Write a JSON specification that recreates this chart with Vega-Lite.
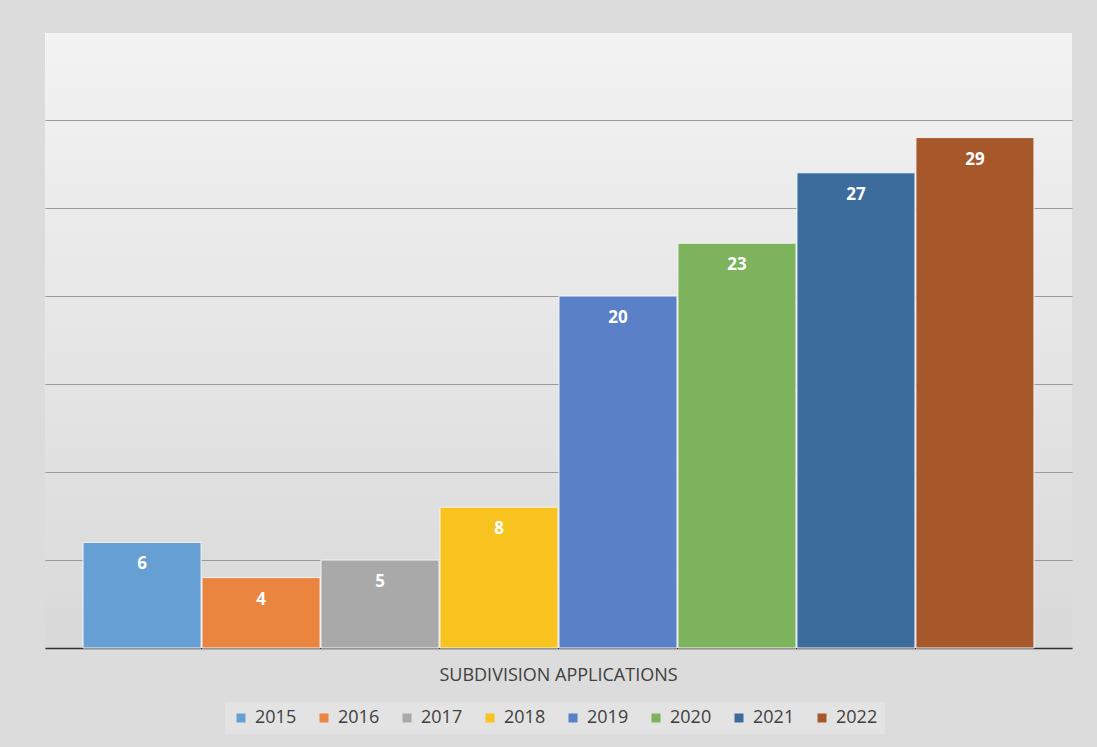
{
  "$schema": "https://vega.github.io/schema/vega-lite/v6.json",
  "autosize": {"type": "none"},
  "width": 1027,
  "height": 616,
  "padding": {"left": 45, "top": 32, "right": 25, "bottom": 99},
  "background": "#dcdcdc",
  "config": {
    "view": {"stroke": null, "fill": {"gradient": "linear", "x1": 0, "y1": 0, "x2": 0, "y2": 1, "stops": [{"offset": 0, "color": "#f3f3f3"}, {"offset": 1, "color": "#d9d9d9"}]}},
    "font": "Open Sans"
  },
  "data": {
    "values": [
      {"category": "SUBDIVISION APPLICATIONS", "year": "2015", "value": 6},
      {"category": "SUBDIVISION APPLICATIONS", "year": "2016", "value": 4},
      {"category": "SUBDIVISION APPLICATIONS", "year": "2017", "value": 5},
      {"category": "SUBDIVISION APPLICATIONS", "year": "2018", "value": 8},
      {"category": "SUBDIVISION APPLICATIONS", "year": "2019", "value": 20},
      {"category": "SUBDIVISION APPLICATIONS", "year": "2020", "value": 23},
      {"category": "SUBDIVISION APPLICATIONS", "year": "2021", "value": 27},
      {"category": "SUBDIVISION APPLICATIONS", "year": "2022", "value": 29}
    ]
  },
  "encoding": {
    "x": {
      "field": "category", "type": "nominal",
      "scale": {"paddingInner": 0, "paddingOuter": 0.04},
      "axis": {"title": null, "labelAngle": 0, "labelFontSize": 18, "labelLimit": 600, "labelColor": "#404040", "labelPadding": 18, "ticks": false, "domainColor": "#333333", "domainWidth": 1.5, "labelFont": "Open Sans"}
    },
    "xOffset": {"field": "year", "type": "nominal", "scale": {"paddingInner": 0.008}},
    "y": {
      "field": "value", "type": "quantitative",
      "scale": {"domain": [0, 35], "nice": false},
      "axis": {"title": null, "labels": false, "ticks": false, "domain": false, "values": [0, 5, 10, 15, 20, 25, 30, 35], "gridColor": {"condition": {"test": "datum.value === 35", "value": "#dadada"}, "value": "#9a9a9a"}, "gridWidth": 1.2}
    }
  },
  "layer": [
    {
      "mark": {"type": "bar", "stroke": "#f4f4f4", "strokeWidth": 1},
      "encoding": {
        "color": {
          "field": "year", "type": "nominal",
          "scale": {
            "domain": ["2015", "2016", "2017", "2018", "2019", "2020", "2021", "2022"],
            "range": ["#669fd3", "#e9853f", "#a9a9a9", "#f8c21f", "#5a80c8", "#7cb35c", "#3b6c9c", "#a6582a"]
          },
          "legend": {
            "title": null, "orient": "none", "legendX": 180, "legendY": 670, "direction": "horizontal",
            "symbolType": "square", "symbolSize": 81, "symbolStrokeWidth": 0,
            "labelFontSize": 18, "labelColor": "#404040", "labelFont": "Open Sans", "labelOffset": 5,
            "columnPadding": 18, "symbolOffset": 0,
            "fillColor": "#e3e3e3", "padding": 7
          }
        }
      }
    },
    {
      "mark": {"type": "text", "color": "white", "fontWeight": "bold", "fontSize": 17, "dy": 22, "font": "Open Sans"},
      "encoding": {"text": {"field": "value", "type": "quantitative"}}
    }
  ]
}
